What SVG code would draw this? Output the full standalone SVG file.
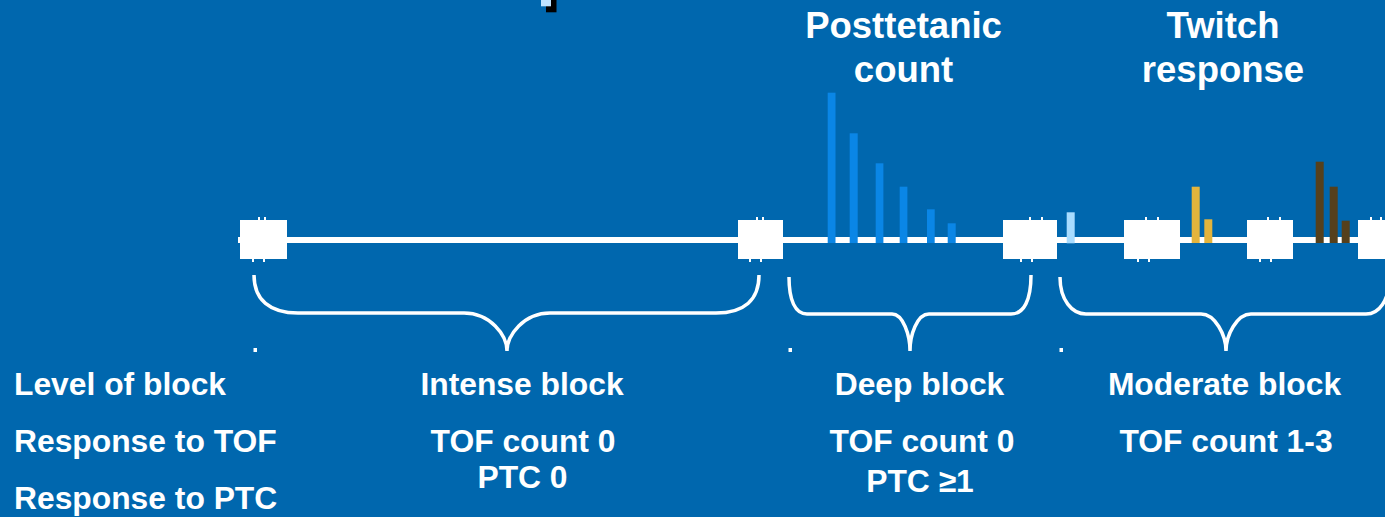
<svg xmlns="http://www.w3.org/2000/svg" width="1385" height="517" viewBox="0 0 1385 517">
<style>
.t{font-family:"Liberation Sans",Arial,sans-serif;font-weight:bold;fill:#fff;font-size:31.8px}
.h{font-family:"Liberation Sans",Arial,sans-serif;font-weight:bold;fill:#fff;font-size:36.5px;text-anchor:middle}
.c{text-anchor:middle}
.box{fill:#fff}
.brace{fill:none;stroke:#fff;stroke-width:3.5;stroke-linecap:butt}
.ptc{fill:#0A86E6}
.yb{fill:#E3B43C}
.bb{fill:#55401C}
.dot{fill:#fff}
</style>
<rect width="1385" height="517" fill="#0067AE"/>
<rect x="546" y="0" width="10.5" height="12.3" fill="#000"/>
<rect x="541" y="0" width="10" height="6.3" fill="#BFE3FF"/>
<g id="titles">
<text class="h" x="903.5" y="38">Posttetanic</text>
<text class="h" x="903.5" y="82">count</text>
<text class="h" x="1223" y="38">Twitch</text>
<text class="h" x="1223" y="82">response</text>
</g>
<g id="connectors">
<rect x="238" y="237" width="1147" height="6" fill="#fff"/>
<path class="brace" d="M254,275 C254,300 270,313 298,313 L464,313 C490,313 507,335 507,351 C507,335 524,313 550,313 L716,313 C744,313 759,300 759,275"/>
<path class="brace" d="M789,277 C789,300 795,314 807,314 L892,314 C903,314 910,335 910,351 C910,335 917,314 929,314 L1011,314 C1024,314 1031,300 1031,275"/>
<path class="brace" d="M1060,277 C1060,300 1072,314 1086,314 L1201,314 C1215,314 1226,335 1226,351 C1226,335 1237,314 1251,314 L1366,314 C1380,314 1388,300 1390,280"/>
<rect class="dot" x="253.5" y="348" width="3.5" height="4"/>
<rect class="dot" x="788.5" y="348" width="3.5" height="4"/>
<rect class="dot" x="1059.5" y="348" width="3.5" height="4"/>
</g>
<g id="box-a"><rect class="box" x="240" y="220" width="47" height="39"/><rect class="dot" x="258" y="217" width="2" height="3"/><rect class="dot" x="264" y="217" width="2" height="3"/><rect class="dot" x="252" y="259" width="2" height="3"/><rect class="dot" x="263" y="259" width="2" height="3"/></g>
<g id="box-b"><rect class="box" x="738" y="220" width="45" height="39"/><rect class="dot" x="756" y="217" width="2" height="3"/><rect class="dot" x="762" y="217" width="2" height="3"/><rect class="dot" x="749" y="259" width="2" height="3"/><rect class="dot" x="760" y="259" width="2" height="3"/></g>
<g id="box-c"><rect class="box" x="1003" y="220" width="54" height="39"/><rect class="dot" x="1029" y="217" width="2" height="3"/><rect class="dot" x="1041" y="217" width="2" height="3"/><rect class="dot" x="1020" y="259" width="2" height="3"/><rect class="dot" x="1031" y="259" width="2" height="3"/></g>
<g id="box-d"><rect class="box" x="1124" y="220" width="56" height="39"/><rect class="dot" x="1145" y="217" width="2" height="3"/><rect class="dot" x="1157" y="217" width="2" height="3"/><rect class="dot" x="1137" y="259" width="2" height="3"/><rect class="dot" x="1148" y="259" width="2" height="3"/></g>
<g id="box-e"><rect class="box" x="1247" y="220" width="46" height="39"/><rect class="dot" x="1267" y="217" width="2" height="3"/><rect class="dot" x="1279" y="217" width="2" height="3"/><rect class="dot" x="1259" y="259" width="2" height="3"/><rect class="dot" x="1270" y="259" width="2" height="3"/></g>
<g id="box-f"><rect class="box" x="1358" y="220" width="30" height="39"/><rect class="dot" x="1370" y="217" width="2" height="3"/><rect class="dot" x="1380" y="217" width="2" height="3"/></g>
<g id="ptc-bars">
<rect class="ptc" x="827.7" y="92.7" width="7.8" height="150.3"/>
<rect class="ptc" x="849.7" y="133.3" width="8" height="109.7"/>
<rect class="ptc" x="875.7" y="163.3" width="7.7" height="79.7"/>
<rect class="ptc" x="899.7" y="186.7" width="7.7" height="56.3"/>
<rect class="ptc" x="927" y="209.3" width="7.7" height="33.7"/>
<rect class="ptc" x="947.7" y="223.3" width="8" height="19.7"/>
</g>
<g id="twitch-bars">
<rect x="1066.7" y="212.3" width="8" height="31" fill="#A8DCFF"/>
<rect class="yb" x="1191.7" y="186.7" width="8" height="56.3"/>
<rect class="yb" x="1204.3" y="219.3" width="8" height="23.7"/>
<rect class="bb" x="1315.7" y="161.7" width="8" height="81.3"/>
<rect class="bb" x="1329.7" y="186.7" width="8" height="56.3"/>
<rect class="bb" x="1341.7" y="220.7" width="8" height="22.3"/>
</g>
<g id="row-labels">
<text class="t" x="14" y="395">Level of block</text>
<text class="t" x="14" y="452">Response to TOF</text>
<text class="t" x="14" y="509">Response to PTC</text>
</g>
<g id="intense">
<text class="t c" x="522" y="395">Intense block</text>
<text class="t c" x="523" y="452">TOF count 0</text>
<text class="t c" x="522.5" y="488">PTC 0</text>
</g>
<g id="deep">
<text class="t c" x="919.5" y="395">Deep block</text>
<text class="t c" x="922" y="452">TOF count 0</text>
<text class="t c" x="920" y="491.5">PTC ≥1</text>
</g>
<g id="moderate">
<text class="t c" x="1224.5" y="395">Moderate block</text>
<text class="t c" x="1226" y="452">TOF count 1-3</text>
</g>
</svg>
